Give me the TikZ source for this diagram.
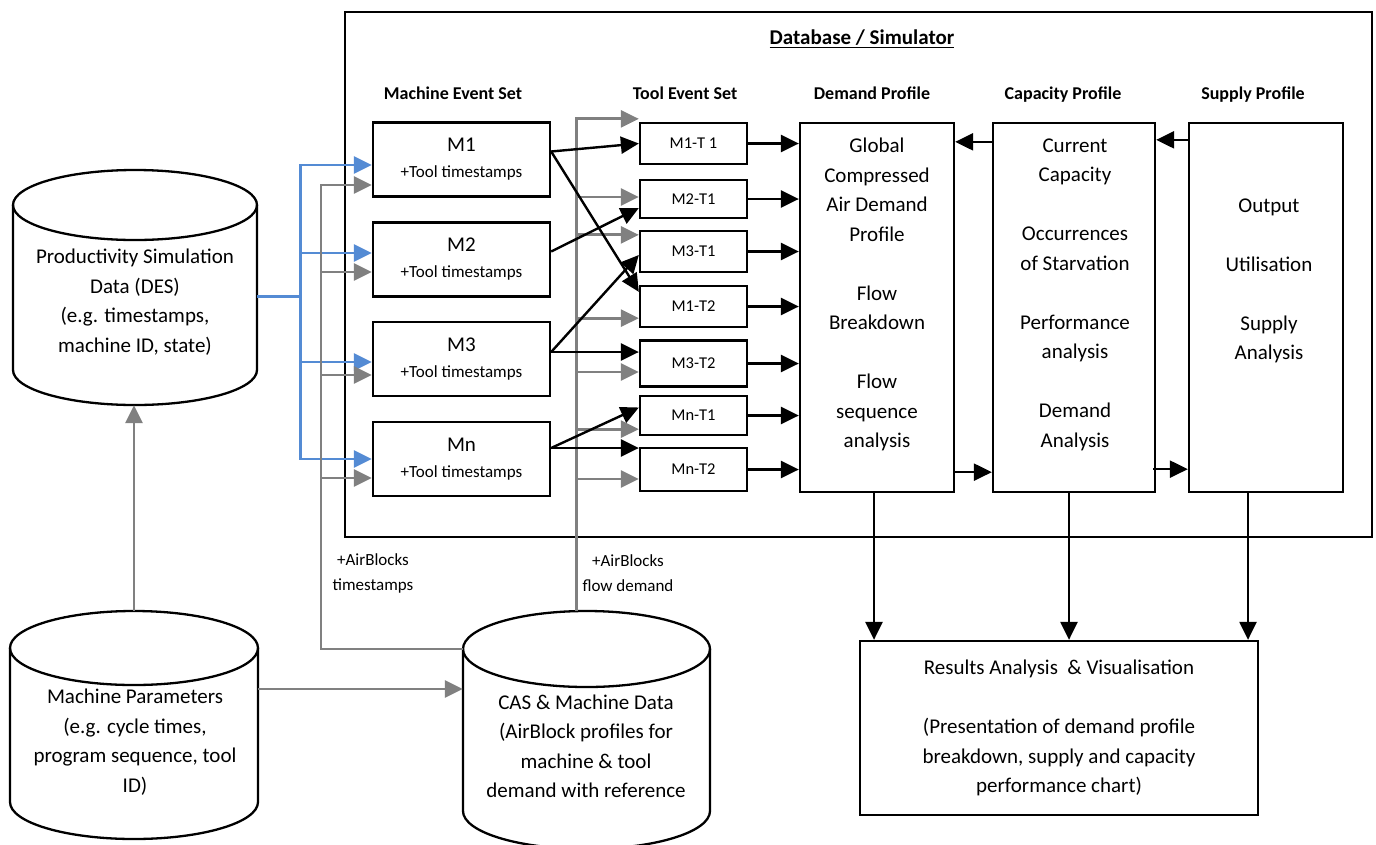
\documentclass[tikz,border=0pt]{standalone}
\usepackage{fontspec}
\setmainfont{Carlito}
\usetikzlibrary{arrows.meta,calc,fit}
\definecolor{gline}{RGB}{128,128,128}
\definecolor{bline}{RGB}{84,139,212}
% #1 name, #2 cx, #3 top ellipse cy, #4 bottom ellipse cy, #5 rx, #6 ry
\newcommand\dbcyl[6]{%
  \draw[cyl] (#2-#5,#3) -- (#2-#5,#4) arc[start angle=180,end angle=360,x radius=#5pt,y radius=#6pt] -- (#2+#5,#3);
  \draw[cyl] (#2,#3) ellipse[x radius=#5pt,y radius=#6pt];
  \coordinate (#1-nw) at (#2-#5,#3-#6);
  \coordinate (#1-se) at (#2+#5,#4+#6);
  \coordinate (#1-l) at (#2-#5,#3);
  \node[fit=(#1-nw)(#1-se), inner sep=0pt] (#1) {};
}
\tikzset{
  bx/.style={draw=black, line width=2.3pt, inner sep=0pt, align=center},
  mbox/.style={bx, minimum width=177pt, minimum height=74pt, font=\fontsize{17}{26}\selectfont},
  tbox/.style={bx, minimum width=107pt, font=\fontsize{16.5}{20}\selectfont},
  pbox/.style={bx, minimum height=369pt},
  ptext/.style={align=center, inner sep=0pt, font=\fontsize{21}{29.5}\selectfont},
  head/.style={inner sep=0pt, text height=12.5pt, text depth=4pt, font=\fontsize{18}{22}\selectfont\bfseries},
  lab/.style={inner sep=0pt, align=center, font=\fontsize{17}{25}\selectfont},
  cyl/.style={draw=black, line width=2.3pt},
  arr/.style={-{Triangle[length=18pt,width=17pt]}, line width=2.4pt, draw=black},
  garr/.style={arr, draw=gline, color=gline, line width=2.8pt},
  barr/.style={arr, draw=bline, color=bline, line width=2.8pt},
}
\begin{document}
\begin{tikzpicture}[x=1pt,y=-1pt]
\useasboundingbox (0,0) rectangle (1376,844);

% outer frame
\node[bx, line width=2pt, minimum width=1027pt, minimum height=525pt] (db) at (858.5,274.5) {};
\node[inner sep=0pt, font=\fontsize{21}{25}\selectfont\bfseries] (dbt) at (862,39) {\underline{Database / Simulator}};

% headers
\node[head] (hM) at (453,95.5) {Machine Event Set};
\node[head] (hT) at (685,95.5) {Tool Event Set};
\node[head] (hD) at (872,95.5) {Demand Profile};
\node[head] (hC) at (1063,95.5) {Capacity Profile};
\node[head] (hS) at (1253,95.5) {Supply Profile};

% machine boxes
\node[mbox] (M1) at (461.5,159.5) {{\fontsize{21}{26}\selectfont M1}\\+Tool timestamps};
\node[mbox] (M2) at (461.5,259.5) {{\fontsize{21}{26}\selectfont M2}\\+Tool timestamps};
\node[mbox] (M3) at (461.5,359) {{\fontsize{21}{26}\selectfont M3}\\+Tool timestamps};
\node[mbox] (Mn) at (461.5,459) {{\fontsize{21}{26}\selectfont Mn}\\+Tool timestamps};

% tool boxes
\node[tbox, minimum height=41pt] (M1T1) at (693.5,143.5) {M1-T 1};
\node[tbox, minimum height=38pt] (M2T1) at (693.5,199) {M2-T1};
\node[tbox, minimum height=41pt] (M3T1) at (693.5,251.5) {M3-T1};
\node[tbox, minimum height=41pt] (M1T2) at (693.5,306.5) {M1-T2};
\node[tbox, minimum height=46pt] (M3T2) at (693.5,363.5) {M3-T2};
\node[tbox, minimum height=39pt] (MnT1) at (693.5,415.5) {Mn-T1};
\node[tbox, minimum height=43pt] (MnT2) at (693.5,469.5) {Mn-T2};

% profile boxes
\node[pbox, minimum width=154pt] (dem) at (877,307.5) {};
\node[pbox, minimum width=162pt] (cap) at (1074,307.5) {};
\node[pbox, minimum width=154pt] (sup) at (1266,307.5) {};
\node[ptext] (demt) at (877,294.5) {Global\\Compressed\\Air Demand\\Profile\\[29.5pt]Flow\\Breakdown\\[29.5pt]Flow\\sequence\\analysis};
\node[ptext] (capt) at (1075,294.5) {Current\\Capacity\\[29.5pt]Occurrences\\of Starvation\\[29.5pt]Performance\\analysis\\[29.5pt]Demand\\Analysis};
\node[ptext] (supt) at (1269,281) {Output\\[29.5pt]Utilisation\\[29.5pt]Supply\\Analysis};

% results
\node[bx, minimum width=398pt, minimum height=174pt, font=\fontsize{21}{29.5}\selectfont] (res) at (1059,728) {Results Analysis\ \ \& Visualisation\\[29.5pt](Presentation of demand profile\\breakdown, supply and capacity\\performance chart)};

% cylinders
\dbcyl{psd}{135}{205}{370}{122}{35}
\dbcyl{mp}{134}{648}{802}{124}{37}
\dbcyl{cas}{586.5}{649}{811}{123.5}{38}
\node[ptext] (psdt) at (135,302) {Productivity Simulation\\Data (DES)\\(e.g. timestamps,\\machine ID, state)};
\node[ptext] (mpt) at (135,742) {Machine Parameters\\(e.g. cycle times,\\program sequence, tool\\ID)};
\node[ptext] (cast) at (586,746.5) {CAS \& Machine Data\\(AirBlock profiles for\\machine \& tool\\demand with reference};

% labels
\node[lab] (lts) at (373,573.5) {+AirBlocks\\timestamps};
\node[lab] (lfd) at (628,573.5) {+AirBlocks\\flow demand};

% grey: machine parameters
\draw[garr] (mp.north) -- (mp.north |- psd.south);
\coordinate (mpout) at ([yshift=36pt]mp.east);
\draw[garr] (mpout) -- (mpout -| cas.west);

% blue bus
\coordinate (psdout) at ([yshift=-9pt]psd.east);
\coordinate (b1) at ([yshift=-5.5pt]M1.west);
\coordinate (b2) at ([yshift=6.5pt]M2.west);
\coordinate (b3) at ([yshift=-3pt]M3.west);
\coordinate (b4) at (Mn.west);
\foreach \t in {b1,b2,b3,b4} \draw[barr] (psdout) -- ++(43,0) |- (\t);

% grey left bus (AirBlocks timestamps)
\coordinate (gbx) at (321,0);
\coordinate (g1) at ([yshift=-25.5pt]M1.west);
\coordinate (g2) at ([yshift=-12.5pt]M2.west);
\coordinate (g3) at ([yshift=-16pt]M3.west);
\coordinate (g4) at ([yshift=-19pt]Mn.west);
\foreach \t in {g1,g2,g3,g4} \draw[garr] (cas-l) -- (cas-l -| gbx) |- (\t);

% grey right bus (AirBlocks flow demand)
\coordinate (castop) at ([xshift=-10pt]cas.north);
\coordinate (t1) at ([yshift=3pt]M1T1.north west);
\coordinate (t2) at ([yshift=2pt]M2T1.west);
\coordinate (t3) at ([yshift=-5pt]M3T1.north west);
\coordinate (t4) at ([yshift=10pt]M1T2.south west);
\coordinate (t5) at ([yshift=-8.5pt]M3T2.west);
\coordinate (t6) at ([yshift=7pt]MnT1.south west);
\coordinate (t7) at ([yshift=-9.5pt]MnT2.west);
\foreach \t in {t1,t2,t3,t4,t5,t6,t7} \draw[garr] (castop) |- (\t);

% machine -> tool
\coordinate (o1) at ([yshift=8pt]M1.east);
\coordinate (o2) at ([yshift=8pt]M2.east);
\coordinate (o3) at ([yshift=7pt]M3.east);
\coordinate (o4) at ([yshift=11pt]Mn.east);
\draw[arr] (o1) -- (M1T1.west);
\draw[arr] (o1) -- ([yshift=-7pt]M1T2.north west);
\draw[arr] (o2) -- ([yshift=-9pt]M2T1.west);
\draw[arr] (o3) -- ([yshift=-3.5pt]M3T1.west);
\draw[arr] (o3) -- (o3 -| M3T2.west);
\draw[arr] (o4) -- ([yshift=8pt]MnT1.west);
\draw[arr] (o4) -- (o4 -| MnT2.west);

% tool -> demand
\foreach \t in {M1T1,M2T1,M3T1,M1T2,M3T2,MnT1,MnT2} \draw[arr] (\t.east) -- (\t.east -| dem.west);

% between profiles
\draw[arr] ([yshift=-20pt]cap.north west) -- ([yshift=-20pt]dem.north east);
\draw[arr] ([yshift=-18pt]sup.north west) -- ([yshift=-18pt]cap.north east);
\draw[arr] ([yshift=21pt]dem.south east) -- ([yshift=21pt]cap.south west);
\draw[arr] ([yshift=24pt,xshift=-3pt]cap.south east) -- ([yshift=24pt]sup.south west);

% to results
\coordinate (d1) at ([xshift=-3pt]dem.south);
\coordinate (d2) at ([xshift=-5pt]cap.south);
\coordinate (d3) at ([xshift=-18pt]sup.south);
\foreach \t in {d1,d2,d3} \draw[arr] (\t) -- (\t |- res.north);
\end{tikzpicture}
\end{document}
